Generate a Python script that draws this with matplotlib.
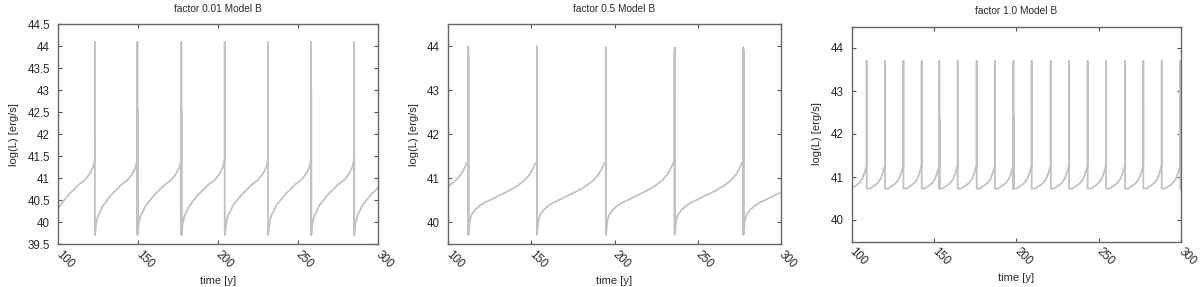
import matplotlib
matplotlib.use("Agg")
import matplotlib.pyplot as plt
from matplotlib.ticker import FormatStrFormatter

plt.rcParams['font.family'] = ['Liberation Sans', 'DejaVu Sans']

# tiempos de los estallidos (años)
bursts_a = [122.9, 149.5, 177.0, 204.2, 231.3, 258.3, 285.2]
bursts_b = [112.0, 153.3, 194.8, 236.2, 277.5]
bursts_c = [109.1, 120.2, 131.4, 142.5, 153.2, 164.4, 175.9, 187.0, 198.2,
            209.3, 220.9, 232.0, 243.3, 254.5, 266.0, 277.1, 288.3, 299.6]

# altura del pico principal y del segundo pico (None = sin segundo pico)
peaks_a = [44.1, 44.1, 44.1, 44.1, 44.1, 44.1, 44.1]
second_a = [None, 42.55, 42.6, None, None, 43.08, 41.7]
peaks_b = [44.0, 44.0, 43.98, 43.98, 43.98]
second_b = [43.8, 43.8, 43.9, 43.9, 43.9]
peaks_c = [43.7] * 18
second_c = [None, None, None, None, 42.35, None, None, None, 42.4,
            None, None, None, None, None, None, None, None, None]

# forma de un ciclo: fraccion del periodo -> log(L)
phase_a = [0.004, 0.037, 0.074, 0.115, 0.19, 0.27, 0.384, 0.499, 0.617, 0.769, 0.887, 0.961, 0.987, 1.0]
level_a = [39.71, 40.00, 40.15, 40.22, 40.38, 40.48, 40.62, 40.73, 40.85, 40.96, 41.11, 41.26, 41.38, 41.38]
phase_b = [0.004, 0.024, 0.048, 0.097, 0.17, 0.242, 0.339, 0.436, 0.533, 0.63, 0.726, 0.823, 0.896, 0.944, 0.98, 1.0]
level_b = [39.72, 40.05, 40.17, 40.28, 40.38, 40.45, 40.52, 40.60, 40.67, 40.75, 40.84, 40.96, 41.09, 41.23, 41.35, 41.35]
phase_c = [0.004, 0.18, 0.27, 0.45, 0.62, 0.76, 0.87, 0.94, 0.985, 1.0]
level_c = [40.73, 40.73, 40.76, 40.81, 40.87, 40.96, 41.08, 41.19, 41.25, 41.25]


def armar_serie(bursts, peaks, second, phase, level):
    period = (bursts[-1] - bursts[0]) / (len(bursts) - 1)
    starts = [bursts[0] - period] + bursts
    ends = bursts + [bursts[-1] + period]
    t, y = [], []
    for k, (a, b) in enumerate(zip(starts, ends)):
        if k > 0:
            t += [a, a + 0.02]
            y += [peaks[k - 1], level[0]]
            if second[k - 1] is not None:
                t += [a + 0.06, a + 0.1]
                y += [second[k - 1], level[0]]
        for f, v in zip(phase, level):
            t.append(a + f * (b - a))
            y.append(v)
    return t, y


paneles = [
    ("factor 0.01 Model B", bursts_a, peaks_a, second_a, phase_a, level_a,
     [58.3, 24.3, 377.7, 244.3], [39.5 + 0.5 * i for i in range(11)]),
    ("factor 0.5 Model B", bursts_b, peaks_b, second_b, phase_b, level_b,
     [448.3, 24.3, 780.7, 244.3], [40, 41, 42, 43, 44]),
    ("factor 1.0 Model B", bursts_c, peaks_c, second_c, phase_c, level_c,
     [851.7, 26.5, 1181.0, 241.5], [40, 41, 42, 43, 44]),
]

W, H = 1200, 287
fig = plt.figure(figsize=(W / 100, H / 100), dpi=100)

for titulo, bursts, peaks, second, phase, level, caja, yt in paneles:
    x0, y0, x1, y1 = caja
    ax = fig.add_axes([x0 / W, 1 - y1 / H, (x1 - x0) / W, (y1 - y0) / H])
    t, y = armar_serie(bursts, peaks, second, phase, level)
    ax.plot(t, y, color='#c2c2c2', linewidth=1.3)
    ax.set_xlim(100, 300)
    ax.set_ylim(39.5, 44.5)
    ax.set_xticks([100, 150, 200, 250, 300])
    ax.set_yticks(yt)
    ax.yaxis.set_major_formatter(FormatStrFormatter('%g'))
    ax.tick_params(direction='in', length=3, width=0.8, color='#555555',
                   top=True, right=True, labelsize=8.3, labelcolor='#2a2a2a', pad=6)
    for lab in ax.get_xticklabels():
        lab.set_rotation(-45)
        lab.set_ha('left')
        lab.set_va('center')
        lab.set_rotation_mode('anchor')
    for s in ax.spines.values():
        s.set_color('#666666')
        s.set_linewidth(1.0)
    ax.set_title(titulo, fontsize=7.3, color='#2a2a2a', pad=9)
    ax.set_xlabel('time [y]', fontsize=8, color='#2a2a2a', labelpad=4)
    ax.set_ylabel('log(L) [erg/s]', fontsize=8, color='#2a2a2a', labelpad=6)

plt.savefig('out.png', dpi=100)
